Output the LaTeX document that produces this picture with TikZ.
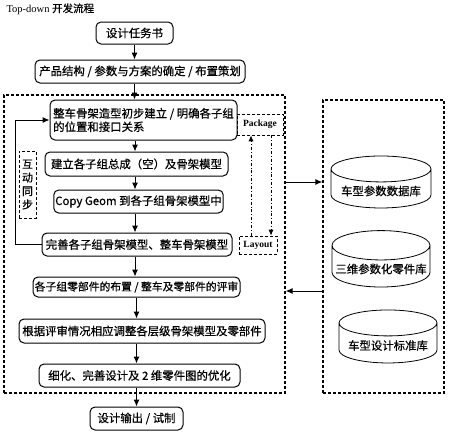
\documentclass[tikz,border=0pt]{standalone}
\usepackage{fontspec}
\setmainfont{Liberation Serif}
\newfontfamily\cjk[FakeBold=0.6]{Noto Sans CJK SC}
\usetikzlibrary{arrows.meta,shapes.geometric}

\begin{document}
\begin{tikzpicture}[
        x=1pt, y=-1pt,
        font=\cjk\fontsize{11.4}{13.5}\selectfont,
        block/.style={
            draw,
            line width=1pt,
            rounded corners=5pt,
            inner sep=1.5pt,
            align=center
        },
        frame/.style={draw, line width=1.2pt, dash pattern=on 3pt off 2pt},
        tag/.style={draw, line width=0.6pt, densely dashed, inner sep=1pt,
            font=\rmfamily\bfseries\fontsize{9.5}{11}\selectfont},
        db/.style={draw, line width=0.8pt, cylinder, shape border rotate=90,
            aspect=0.3, align=center},
        arrow/.style={-{Latex[length=7pt,width=6pt]}, line width=1pt},
        syncarrow/.style={-{Latex[length=6pt,width=5pt]}, line width=0.8pt, dash dot}
    ]

    \useasboundingbox (0,0) rectangle (450,434);

    \node[anchor=west, font=\rmfamily\fontsize{10.5}{12}\selectfont] (title) at (3,9) {Top-down {\cjk 开发流程}};

    % main flow
    \node[block, minimum width=77, minimum height=22] (task) at (134.5,33) {设计任务书};
    \node[block, minimum width=210, minimum height=23] (plan) at (140,71.5) {产品结构 / 参数与方案的确定 / 布置策划};
    \node[block, minimum width=187, minimum height=40, align=left] (frameinit) at (143.5,120) {整车骨架造型初步建立 / 明确各子组\\的位置和接口关系};
    \node[block, minimum width=183, minimum height=24] (subasm) at (136.5,164) {建立各子组总成（空）及骨架模型};
    \node[block, minimum width=169, minimum height=23] (copygeom) at (138.5,201.5) {Copy Geom 到各子组骨架模型中};
    \node[block, minimum width=190, minimum height=23] (refine) at (137,244.5) {完善各子组骨架模型、整车骨架模型};
    \node[block, minimum width=207, minimum height=20, font=\cjk\fontsize{10.8}{13}\selectfont] (review) at (136.5,287) {各子组零部件的布置 / 整车及零部件的评审};
    \node[block, minimum width=246, minimum height=24] (adjust) at (142,331) {根据评审情况相应调整各层级骨架模型及零部件};
    \node[block, minimum width=201, minimum height=23] (detail) at (139.5,375.5) {细化、完善设计及 2 维零件图的优化};
    \node[block, minimum width=93, minimum height=23] (output) at (136.5,418.5) {设计输出 / 试制};

    % frames
    \node[frame, minimum width=281, minimum height=298] (mainframe) at (144.5,244) {};
    \node[frame, minimum width=121, minimum height=293] (dbframe) at (383.5,246.5) {};

    % side tags
    \node[tag, minimum width=17, minimum height=67, align=center, font=\cjk\fontsize{11}{13.5}\selectfont] (sync) at (27.5,184.5) {互\\动\\同\\步};
    \node[tag, minimum width=46, minimum height=21] (package) at (260,124.5) {Package};
    \node[tag, minimum width=38, minimum height=18] (layout) at (258,245) {Layout};

    % databases
    \node[db, minimum width=100, minimum height=52] (vehdb) at (381,191) {车型参数数据库};
    \node[db, minimum width=98, minimum height=52] (partdb) at (381,269) {三维参数化零件库};
    \node[db, minimum width=98, minimum height=53] (stddb) at (388,345.5) {车型设计标准库};

    % flow arrows
    \draw[arrow] (task.south) -- (task.south |- plan.north);
    \draw[arrow] ([xshift=-5.5pt]plan.south) -- ([xshift=-5.5pt]plan.south |- frameinit.north);
    \draw[arrow] ([xshift=-8.5pt]frameinit.south) -- ([xshift=-8.5pt]frameinit.south |- subasm.north);
    \draw[arrow] ([xshift=-1.5pt]subasm.south) -- ([xshift=-1.5pt]subasm.south |- copygeom.north);
    \draw[arrow] ([xshift=-3.5pt]copygeom.south) -- ([xshift=-3.5pt]copygeom.south |- refine.north);
    \draw[arrow] ([xshift=-2pt]refine.south) -- ([xshift=-2pt]refine.south |- review.north);
    \draw[arrow] (review.south) -- (review.south |- adjust.north);
    \draw[arrow] ([xshift=-5.5pt]adjust.south) -- ([xshift=-5.5pt]adjust.south |- detail.north);
    \draw[arrow] ([xshift=-3pt]detail.south) -- ([xshift=-3pt]detail.south |- output.north);

    % feedback loop
    \draw[arrow] (refine.west) -- ++(-26,0) |- (frameinit.west);

    % package / layout
    \draw[syncarrow] ([xshift=-7pt]layout.north) -- ([xshift=-7pt]layout.north |- package.south);
    \draw[syncarrow] ([xshift=11pt]package.south) -- ([xshift=11pt]package.south |- layout.north);

    % database links
    \coordinate (dbin) at (285,182);
    \coordinate (dbout) at (323,291);
    \draw[arrow] (dbin) -- (dbin -| dbframe.west);
    \draw[arrow] (dbout) -- (dbout -| mainframe.east);

\end{tikzpicture}
\end{document}
